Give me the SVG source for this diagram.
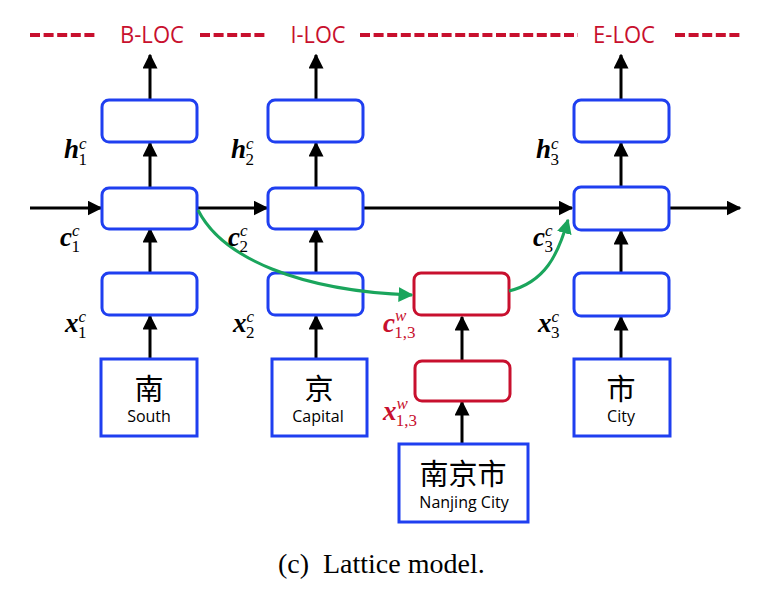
<svg xmlns="http://www.w3.org/2000/svg" width="780" height="597" viewBox="0 0 780 597">
<defs>
<marker id="ab" viewBox="0 0 10 10" refX="9" refY="5" markerWidth="5" markerHeight="5" orient="auto"><path d="M0,0 L10,5 L0,10 z" fill="#000"/></marker>
<marker id="ag" viewBox="0 0 10 10" refX="9" refY="5" markerWidth="5" markerHeight="5" orient="auto"><path d="M0,0 L10,5 L0,10 z" fill="#1aa55c"/></marker>
</defs>
<style>
.cell{fill:#fff;stroke:#1f3ff0;stroke-width:3}
.wcell{fill:#fff;stroke:#c8102e;stroke-width:3}
.in{fill:#fff;stroke:#1f3ff0;stroke-width:3}
.ar{stroke:#000;stroke-width:3;fill:none;marker-end:url(#ab)}
.gr{stroke:#1aa55c;stroke-width:3;fill:none;marker-end:url(#ag)}
.dash{stroke:#c8102e;stroke-width:4;stroke-dasharray:10,3.6}
.tag{font-family:'Open Sans','Liberation Sans',sans-serif;font-size:24px;fill:#c8102e;text-anchor:middle}
.m{font-family:'Liberation Serif',serif;font-style:italic;font-weight:bold;font-size:27px;fill:#000}
.m.r{fill:#c8102e}
.sup{font-size:17px;font-weight:normal}
.sub{font-size:17px;font-weight:normal;font-style:normal}
.zh{font-family:'Noto Sans CJK SC',sans-serif;font-size:29px;fill:#000;text-anchor:middle}
.en{font-family:'Open Sans','Liberation Sans',sans-serif;font-size:16px;fill:#000;text-anchor:middle}
.cap{font-family:'Liberation Serif',serif;font-size:28px;fill:#000}
</style>
<rect width="780" height="597" fill="#fff"/>
<g id="tags">
<line class="dash" x1="30" y1="35" x2="97" y2="35"/>
<line class="dash" x1="200" y1="35" x2="267" y2="35"/>
<line class="dash" x1="360" y1="35" x2="578" y2="35"/>
<line class="dash" x1="675" y1="35" x2="742" y2="35"/>
<text class="tag" x="152" y="43" textLength="64" lengthAdjust="spacingAndGlyphs">B-LOC</text>
<text class="tag" x="318" y="43" textLength="55" lengthAdjust="spacingAndGlyphs">I-LOC</text>
<text class="tag" x="624" y="43" textLength="62" lengthAdjust="spacingAndGlyphs">E-LOC</text>
</g>
<g id="connectors">
<line class="ar" x1="30" y1="208" x2="101" y2="208"/>
<line class="ar" x1="197" y1="208" x2="267" y2="208"/>
<line class="ar" x1="364" y1="208" x2="572" y2="208"/>
<line class="ar" x1="670" y1="208" x2="740" y2="208"/>
<line class="ar" x1="150" y1="359" x2="150" y2="316"/>
<line class="ar" x1="150" y1="273" x2="150" y2="229"/>
<line class="ar" x1="150" y1="188" x2="150" y2="143"/>
<line class="ar" x1="150" y1="100" x2="150" y2="55"/>
<line class="ar" x1="316" y1="359" x2="316" y2="316"/>
<line class="ar" x1="316" y1="273" x2="316" y2="229"/>
<line class="ar" x1="316" y1="188" x2="316" y2="143"/>
<line class="ar" x1="316" y1="100" x2="316" y2="55"/>
<line class="ar" x1="621" y1="359" x2="621" y2="317"/>
<line class="ar" x1="621" y1="273" x2="621" y2="231"/>
<line class="ar" x1="621" y1="187" x2="621" y2="143"/>
<line class="ar" x1="621" y1="100" x2="621" y2="55"/>
<line class="ar" x1="462" y1="444" x2="462" y2="402"/>
<line class="ar" x1="462" y1="361" x2="462" y2="317"/>
</g>
<g id="h1"><rect class="cell" x="102" y="100" width="95" height="42" rx="7"/></g>
<g id="c1"><rect class="cell" x="102" y="188" width="95" height="41" rx="7"/></g>
<g id="x1"><rect class="cell" x="102" y="273" width="95" height="42" rx="7"/></g>
<g id="h2"><rect class="cell" x="268" y="100" width="95" height="42" rx="7"/></g>
<g id="c2"><rect class="cell" x="268" y="188" width="95" height="41" rx="7"/></g>
<g id="x2"><rect class="cell" x="268" y="273" width="95" height="42" rx="7"/></g>
<g id="h3"><rect class="cell" x="574" y="100" width="95" height="42" rx="7"/></g>
<g id="c3"><rect class="cell" x="574" y="187" width="95" height="43" rx="7"/></g>
<g id="x3"><rect class="cell" x="574" y="273" width="95" height="43" rx="7"/></g>
<g id="cw"><rect class="wcell" x="414" y="273" width="95" height="42" rx="7"/></g>
<g id="xw"><rect class="wcell" x="415" y="361" width="95" height="40" rx="7"/></g>
<g id="in1"><rect class="in" x="101" y="359" width="96" height="77"/><text class="zh" x="149" y="400">南</text><text class="en" x="149" y="422">South</text></g>
<g id="in2"><rect class="in" x="272" y="359" width="95" height="77"/><text class="zh" x="319" y="400">京</text><text class="en" x="318" y="422">Capital</text></g>
<g id="in3"><rect class="in" x="574" y="359" width="96" height="77"/><text class="zh" x="621" y="400">市</text><text class="en" x="621" y="422">City</text></g>
<g id="inw"><rect class="in" x="399" y="444" width="129" height="78"/><text class="zh" x="463" y="485">南京市</text><text class="en" x="464" y="508">Nanjing City</text></g>
<g id="green-connectors">
<path class="gr" d="M198,210 C222,258 300,291 412,295"/>
<path class="gr" d="M509,291 C545,282 558,255 568,220"/>
</g>
<g id="labels">
<text class="m" x="64" y="158">h<tspan class="sup" dy="-9">c</tspan><tspan class="sub" dx="-8" dy="16">1</tspan></text>
<text class="m" x="231" y="158">h<tspan class="sup" dy="-9">c</tspan><tspan class="sub" dx="-8" dy="16">2</tspan></text>
<text class="m" x="536" y="158">h<tspan class="sup" dy="-9">c</tspan><tspan class="sub" dx="-8" dy="16">3</tspan></text>
<text class="m" x="60" y="246">c<tspan class="sup" dy="-10">c</tspan><tspan class="sub" dx="-8" dy="16">1</tspan></text>
<text class="m" x="228" y="246">c<tspan class="sup" dy="-10">c</tspan><tspan class="sub" dx="-8" dy="16">2</tspan></text>
<text class="m" x="533" y="246">c<tspan class="sup" dy="-10">c</tspan><tspan class="sub" dx="-8" dy="16">3</tspan></text>
<text class="m" x="65" y="332">x<tspan class="sup" dy="-10">c</tspan><tspan class="sub" dx="-8" dy="16">1</tspan></text>
<text class="m" x="233" y="332">x<tspan class="sup" dy="-10">c</tspan><tspan class="sub" dx="-8" dy="16">2</tspan></text>
<text class="m" x="538" y="332">x<tspan class="sup" dy="-10">c</tspan><tspan class="sub" dx="-8" dy="16">3</tspan></text>
<text class="m r" x="383" y="332">c<tspan class="sup" dy="-11">w</tspan><tspan class="sub" dx="-12" dy="17">1,3</tspan></text>
<text class="m r" x="383" y="420">x<tspan class="sup" dy="-11">w</tspan><tspan class="sub" dx="-12" dy="17">1,3</tspan></text>
</g>
<text class="cap" x="278" y="573">(c)<tspan x="323">Lattice model.</tspan></text>
</svg>
